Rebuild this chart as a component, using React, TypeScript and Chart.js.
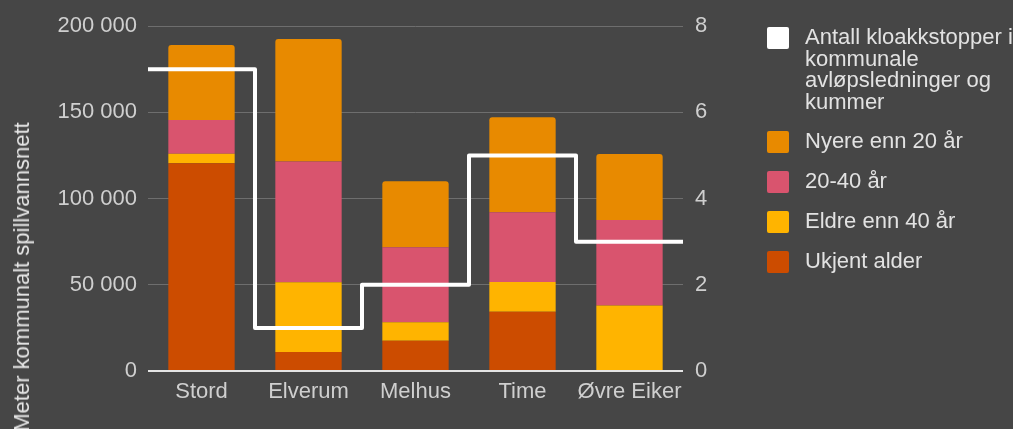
import React, { useEffect, useRef } from 'react';
import { Chart, registerables } from 'chart.js';

Chart.register(...registerables);

const categories = ['Stord', 'Elverum', 'Melhus', 'Time', 'Øvre Eiker'];
const kloakkstopper = [7, 1, 2, 5, 3];
const nyere = [43500, 71000, 38300, 55100, 38300];
const mellom = [19500, 70000, 43500, 40400, 49600];
const eldre = [5500, 40500, 10600, 17200, 37300];
const ukjent = [120500, 11000, 17600, 34400, 600];

const lineLabel = 'Antall kloakkstopper i kommunale avløpsledninger og kummer';
const lineLabelLines = ['Antall kloakkstopper i', 'kommunale', 'avløpsledninger og', 'kummer'];
const seriesLabels = ['Nyere enn 20 år', '20-40 år', 'Eldre enn 40 år', 'Ukjent alder'];
const yTitle = 'Meter kommunalt spillvannsnett';

const COLORS = {
  line: '#ffffff',
  nyere: '#e88a00',
  mellom: '#d9546e',
  eldre: '#ffb400',
  ukjent: '#cc4c00',
};

const BG = '#464646';
const TICK = '#cfcfcf';
const LEGEND_TEXT = '#e2e2e2';
const FONT = "'Liberation Sans', Arial, sans-serif";

function boxImage(color: string): HTMLCanvasElement {
  const c = document.createElement('canvas');
  c.width = 27;
  c.height = 22;
  const g = c.getContext('2d')!;
  g.fillStyle = color;
  g.beginPath();
  (g as any).roundRect ? (g as any).roundRect(0, 0, 22, 22, 2) : g.rect(0, 0, 22, 22);
  g.fill();
  return c;
}

function fmt(v: number): string {
  return String(v).replace(/\B(?=(\d{3})+(?!\d))/g, ' ');
}

export default function App() {
  const ref = useRef<HTMLCanvasElement | null>(null);

  useEffect(() => {
    if (!ref.current) return;
    Chart.defaults.font.family = FONT;

    const stepPoints = [
      ...kloakkstopper.map((v, i) => ({ x: i - 0.5, y: v })),
      { x: kloakkstopper.length - 0.5, y: kloakkstopper[kloakkstopper.length - 1] },
    ];

    const legendOrder = [
      { idx: 0, text: lineLabelLines, color: COLORS.line },
      { idx: 4, text: seriesLabels[0], color: COLORS.nyere },
      { idx: 3, text: seriesLabels[1], color: COLORS.mellom },
      { idx: 2, text: seriesLabels[2], color: COLORS.eldre },
      { idx: 1, text: seriesLabels[3], color: COLORS.ukjent },
    ];

    const barCommon = {
      xAxisID: 'x',
      yAxisID: 'y',
      order: 1,
      grouped: false,
      barPercentage: 0.62,
      categoryPercentage: 1,
    };

    const chart = new Chart(ref.current, {
      type: 'bar',
      data: {
        labels: categories,
        datasets: [
          {
            type: 'line',
            label: lineLabel,
            data: stepPoints as any,
            xAxisID: 'xl',
            yAxisID: 'y1',
            stepped: 'before',
            borderColor: COLORS.line,
            backgroundColor: COLORS.line,
            borderWidth: 4,
            borderJoinStyle: 'round',
            pointRadius: 0,
            fill: false,
            order: 0,
          } as any,
          { ...barCommon, label: seriesLabels[3], data: ukjent, backgroundColor: COLORS.ukjent },
          { ...barCommon, label: seriesLabels[2], data: eldre, backgroundColor: COLORS.eldre },
          { ...barCommon, label: seriesLabels[1], data: mellom, backgroundColor: COLORS.mellom },
          {
            ...barCommon,
            label: seriesLabels[0],
            data: nyere,
            backgroundColor: COLORS.nyere,
            borderRadius: { topLeft: 3, topRight: 3, bottomLeft: 0, bottomRight: 0 },
            borderSkipped: false,
          },
        ] as any,
      },
      options: {
        animation: false,
        responsive: false,
        devicePixelRatio: 1,
        layout: { padding: { top: 9, left: 0, right: 0, bottom: 0 } },
        plugins: {
          tooltip: { enabled: false },
          legend: {
            position: 'right',
            align: 'start',
            maxWidth: 264,
            labels: {
              usePointStyle: true,
              pointStyleWidth: 27,
              boxWidth: 22,
              boxHeight: 22,
              padding: 18,
              color: LEGEND_TEXT,
              font: { size: 22, lineHeight: 0.977, family: FONT },
              generateLabels: () =>
                legendOrder.map((o) => ({
                  text: o.text as any,
                  fillStyle: o.color,
                  strokeStyle: o.color,
                  lineWidth: 0,
                  pointStyle: boxImage(o.color) as any,
                  fontColor: LEGEND_TEXT,
                  hidden: false,
                  datasetIndex: o.idx,
                })),
            },
          },
        },
        scales: {
          x: {
            type: 'category',
            stacked: true,
            offset: true,
            grid: { display: false, drawTicks: false },
            border: { display: false },
            ticks: {
              color: TICK,
              font: { size: 22, family: FONT },
              padding: 8,
              maxRotation: 0,
              minRotation: 0,
              autoSkip: false,
            },
            afterFit: (s: any) => {
              s.height = 58;
            },
          },
          xl: {
            type: 'linear',
            display: false,
            min: -0.5,
            max: 4.5,
            offset: false,
          },
          y: {
            type: 'linear',
            position: 'left',
            stacked: true,
            min: 0,
            max: 200000,
            ticks: {
              stepSize: 50000,
              color: TICK,
              font: { size: 22, family: FONT },
              padding: 11,
              callback: (v: any) => fmt(Number(v)),
            },
            grid: {
              drawTicks: false,
              color: (c: any) => (c.tick && c.tick.value === 0 ? '#e4e4e4' : '#6e6e6e'),
              lineWidth: (c: any) => (c.tick && c.tick.value === 0 ? 2 : 1),
            },
            border: { display: false },
            afterFit: (s: any) => {
              s.width = 148;
              s.paddingTop = 26;
            },
          },
          y1: {
            type: 'linear',
            position: 'right',
            min: 0,
            max: 8,
            ticks: {
              stepSize: 2,
              color: TICK,
              font: { size: 22, family: FONT },
              padding: 12,
            },
            grid: { display: false, drawTicks: false },
            border: { display: false },
            afterFit: (s: any) => {
              s.width = 66;
            },
          },
        },
      } as any,
    });

    return () => chart.destroy();
  }, []);

  return (
    <div
      style={{
        position: 'fixed',
        left: 0,
        top: 0,
        width: 1013,
        height: 429,
        background: BG,
        overflow: 'hidden',
      }}
    >
      <canvas
        ref={ref}
        width={1013}
        height={429}
        style={{ position: 'absolute', left: 0, top: 0, display: 'block' }}
      />
      <div
        style={{
          position: 'absolute',
          left: 22,
          top: 277,
          transform: 'translate(-50%, -50%) rotate(-90deg)',
          whiteSpace: 'nowrap',
          fontFamily: FONT,
          fontSize: 22,
          lineHeight: 1,
          color: '#e6e6e6',
        }}
      >
        {yTitle}
      </div>
    </div>
  );
}
